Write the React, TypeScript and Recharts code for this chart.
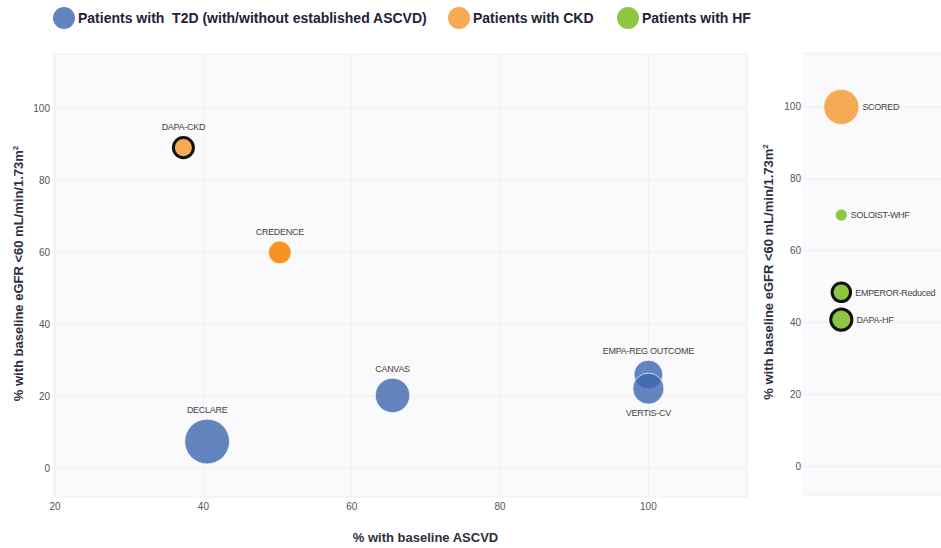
import { ScatterChart, Scatter, XAxis, YAxis, ZAxis, CartesianGrid, Label } from 'recharts';

// main panel: trials with a baseline ASCVD figure
const t2dTrials = ['DECLARE', 'CANVAS', 'EMPA-REG OUTCOME', 'VERTIS-CV'];
const t2dAscvd = [40.5, 65.5, 100, 100];
const t2dEgfr = [7.4, 20.2, 26.0, 22.1];
const t2dPatients = [17160, 10142, 7020, 8246];

const ckdTrials = ['DAPA-CKD', 'CREDENCE'];
const ckdAscvd = [37.3, 50.3];
const ckdEgfr = [89.0, 59.9];
const ckdPatients = [4304, 4401];

// side panel: no ASCVD value, single column
const sideCkdTrials = ['SCORED'];
const sideCkdEgfr = [100];
const sideCkdPatients = [10584];

const hfTrials = ['SOLOIST-WHF', 'EMPEROR-Reduced', 'DAPA-HF'];
const hfEgfr = [69.9, 48.4, 40.8];
const hfPatients = [1222, 3730, 4744];

const xTicks = [20, 40, 60, 80, 100];
const yTicks = [0, 20, 40, 60, 80, 100];
const SIDE_COLUMN = 1;

const t2dData = t2dTrials.map((name, i) => ({ name, ascvd: t2dAscvd[i], egfr: t2dEgfr[i], n: t2dPatients[i] }));
const ckdData = ckdTrials.map((name, i) => ({ name, ascvd: ckdAscvd[i], egfr: ckdEgfr[i], n: ckdPatients[i] }));
const sideCkdData = sideCkdTrials.map((name, i) => ({ name, col: SIDE_COLUMN, egfr: sideCkdEgfr[i], n: sideCkdPatients[i] }));
const hfData = hfTrials.map((name, i) => ({ name, col: SIDE_COLUMN, egfr: hfEgfr[i], n: hfPatients[i] }));

const BLUE = '#3d66b0';
const ORANGE = '#f7aa55';
const GREEN = '#8dc63f';
const outlined = ['DAPA-CKD', 'EMPEROR-Reduced', 'DAPA-HF'];
const labelBelow = ['VERTIS-CV'];
const fillOverride: Record<string, string> = { CREDENCE: '#f7931e' };

const Z_DOMAIN = [0, 20000];
const Z_RANGE = [0, 1837];

const legendItems = [
  { label: 'Patients with  T2D (with/without established ASCVD)', color: '#6183c0', left: 53 },
  { label: 'Patients with CKD', color: '#f7aa55', left: 448 },
  { label: 'Patients with HF', color: '#8dc63f', left: 617 },
];

function bubble(fill: string, opacity: number, side: 'top' | 'right') {
  return (props: any) => {
    const { cx, cy, width, payload } = props;
    const r = width / 2;
    const ring = outlined.includes(payload.name);
    let tx = cx;
    let ty = cy - r - 6;
    let anchor: 'middle' | 'start' = 'middle';
    if (side === 'right') {
      tx = cx + r + 3.5;
      ty = cy + 3.3;
      anchor = 'start';
    } else if (labelBelow.includes(payload.name)) {
      ty = cy + r + 12;
    }
    return (
      <g>
        <circle
          cx={cx}
          cy={cy}
          r={ring ? r - 1.2 : r}
          fill={fillOverride[payload.name] || fill}
          fillOpacity={opacity}
          stroke={ring ? '#111' : '#fff'}
          strokeWidth={ring ? 3 : 0.7}
        />
        <text x={tx} y={ty} textAnchor={anchor} fontSize={9} letterSpacing={-0.3} fill="#444">
          {payload.name}
        </text>
      </g>
    );
  };
}

const yTitle = (props: any) => {
  const { viewBox } = props;
  const x = viewBox.x + 23;
  const y = viewBox.y + viewBox.height / 2 - 2;
  return (
    <text x={x} y={y} transform={`rotate(-90 ${x} ${y})`} textAnchor="middle" fontSize={13} fontWeight="bold" fill="#2f2f3f">
      % with baseline eGFR &lt;60 mL/min/1.73m<tspan dy={-5} fontSize={8}>2</tspan>
    </text>
  );
};

const xTitle = (props: any) => {
  const { viewBox } = props;
  return (
    <text x={viewBox.x + viewBox.width / 2 + 25} y={viewBox.y + 45} textAnchor="middle" fontSize={13} fontWeight="bold" fill="#2f2f3f">
      % with baseline ASCVD
    </text>
  );
};

const tickStyle = { fontSize: 10, fill: '#555' };

export default function App() {
  return (
    <div style={{ position: 'absolute', left: 0, top: 0, width: 941, height: 548, background: '#fff', fontFamily: '"Liberation Sans", Arial, sans-serif', overflow: 'hidden' }}>
      {legendItems.map((item) => (
        <div key={item.label} style={{ position: 'absolute', left: item.left, top: 7, height: 22, display: 'flex', alignItems: 'center' }}>
          <span style={{ width: 22, height: 22, borderRadius: 11, background: item.color, display: 'inline-block' }} />
          <span style={{ marginLeft: 3, fontSize: 14, fontWeight: 'bold', color: '#22223a', whiteSpace: 'pre' }}>{item.label}</span>
        </div>
      ))}

      <div style={{ position: 'absolute', left: 0, top: 0 }}>
        <ScatterChart width={750} height={548} margin={{ top: 54, right: 3, bottom: 0, left: 0 }}>
          <CartesianGrid fill="#faf9fb" stroke="#edf0f2" />
          <XAxis type="number" dataKey="ascvd" domain={[19.85, 113.3]} ticks={xTicks} height={51} axisLine={false} tickLine={false} tickSize={0} tickMargin={6} tick={tickStyle} allowDataOverflow>
            <Label content={xTitle} />
          </XAxis>
          <YAxis type="number" dataKey="egfr" domain={[-8, 115]} ticks={yTicks} width={54} axisLine={false} tickLine={false} tickSize={0} tickMargin={4} tick={tickStyle} allowDataOverflow>
            <Label content={yTitle} />
          </YAxis>
          <ZAxis type="number" dataKey="n" domain={Z_DOMAIN} range={Z_RANGE} />
          <Scatter data={t2dData} shape={bubble(BLUE, 0.8, 'top')} isAnimationActive={false} />
          <Scatter data={ckdData} shape={bubble(ORANGE, 1, 'top')} isAnimationActive={false} />
        </ScatterChart>
      </div>

      <div style={{ position: 'absolute', left: 750, top: 0 }}>
        <ScatterChart width={191} height={548} margin={{ top: 53, right: 0, bottom: 53, left: 0 }}>
          <CartesianGrid fill="#faf9fb" stroke="#edf0f2" vertical={false} />
          <XAxis type="number" dataKey="col" domain={[0, 3.6]} hide />
          <YAxis type="number" dataKey="egfr" domain={[-8, 115]} ticks={yTicks} width={53} axisLine={false} tickLine={false} tickSize={0} tickMargin={2} tick={tickStyle} allowDataOverflow>
            <Label content={yTitle} />
          </YAxis>
          <ZAxis type="number" dataKey="n" domain={Z_DOMAIN} range={Z_RANGE} />
          <Scatter data={sideCkdData} shape={bubble(ORANGE, 1, 'right')} isAnimationActive={false} />
          <Scatter data={hfData} shape={bubble(GREEN, 1, 'right')} isAnimationActive={false} />
        </ScatterChart>
      </div>
    </div>
  );
}
